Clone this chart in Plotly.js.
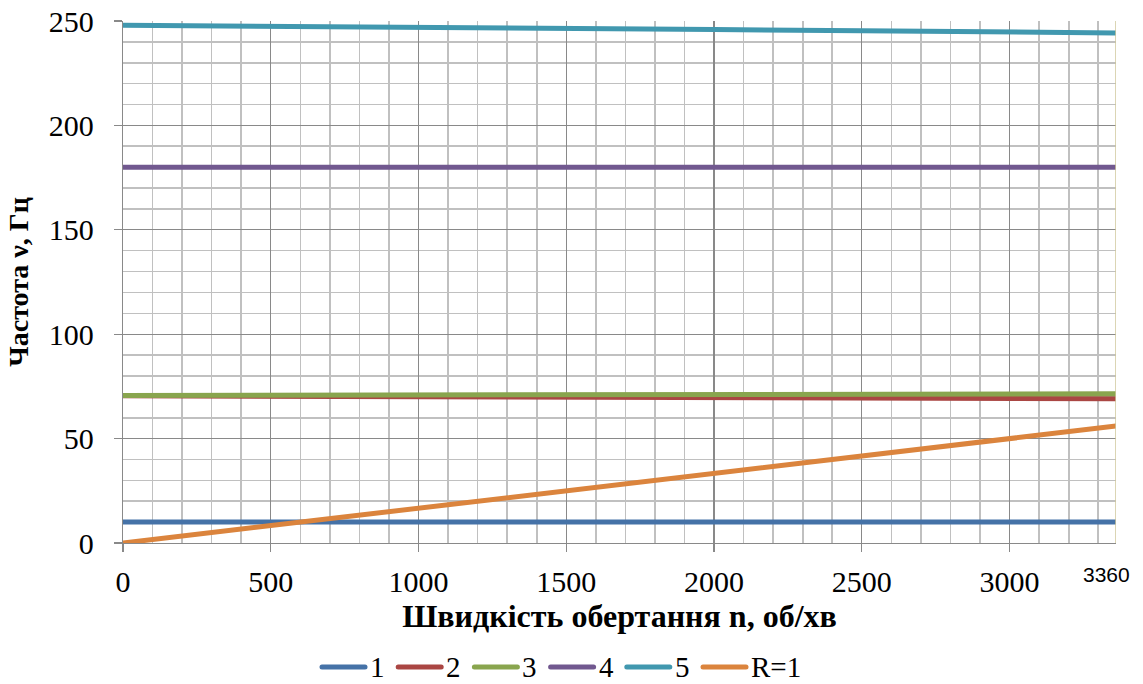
<!DOCTYPE html>
<html>
<head>
<meta charset="utf-8">
<script src="https://cdn.plot.ly/plotly-3.0.1.min.js"></script>
<style>
  html, body { margin: 0; padding: 0; background: #ffffff; }
  #chart { width: 1143px; height: 684px; }
  #chart .js-line { stroke-linecap: round; }
</style>
</head>
<body>
<div id="chart"></div>
<script>
// Rotation speed, rpm
const speed = [0, 500, 1000, 1500, 2000, 2500, 3000, 3360];

// Natural frequencies of modes 1–5, Hz
const mode1 = [10, 10, 10, 10, 10, 10, 10, 10];
const mode2 = [70.5, 70.3, 70.1, 69.9, 69.7, 69.5, 69.3, 69.1];
const mode3 = [70.6, 70.8, 70.9, 71.0, 71.2, 71.3, 71.4, 71.5];
const mode4 = [180, 180, 180, 180, 180, 180, 180, 180];
const mode5 = [248.0, 247.6, 247.1, 246.5, 245.9, 245.3, 244.7, 244.3];
// Excitation line R=1
const rLine = [0, 8.3, 16.7, 25, 33.3, 41.7, 50, 56];

const seriesNames = ['1', '2', '3', '4', '5', 'R=1'];
const seriesValues = [mode1, mode2, mode3, mode4, mode5, rLine];
const seriesColors = ['#4572A7', '#AA4643', '#89A54E', '#71588F', '#4198AF', '#DB843D'];

const xMax = 3360;
const xEndLabel = '3360';

const W = 1143, H = 684;
const M = { l: 123, r: 27, t: 21, b: 141 };
const plotW = W - M.l - M.r;
const plotH = H - M.t - M.b;
// pixel -> paper fraction helpers for the hand-drawn legend
const px = v => (v - M.l) / plotW;
const py = v => (H - M.b - v) / plotH;

const traces = seriesNames.map((name, i) => ({
  x: speed,
  y: seriesValues[i],
  name: name,
  type: 'scatter',
  mode: 'lines',
  line: { color: seriesColors[i], width: 5 },
  hoverinfo: 'x+y+name',
  showlegend: false
}));

const serif = 'Liberation Serif';

// Legend: short coloured bar followed by the series name, in one row
const legendStart = 322, legendStep = 76.2, keyLen = 43, legendY = 667;
const legendShapes = seriesNames.map((n, i) => ({
  type: 'line', xref: 'paper', yref: 'paper',
  x0: px(legendStart + i * legendStep), x1: px(legendStart + i * legendStep + keyLen),
  y0: py(legendY), y1: py(legendY),
  line: { color: seriesColors[i], width: 5 }
}));
const legendLabels = seriesNames.map((n, i) => ({
  text: n, xref: 'paper', yref: 'paper',
  x: px(legendStart + i * legendStep + keyLen + 3), y: py(legendY),
  xanchor: 'left', yanchor: 'middle', showarrow: false,
  font: { family: serif, size: 29, color: '#000000' }
}));

const layout = {
  width: W,
  height: H,
  paper_bgcolor: '#ffffff',
  plot_bgcolor: '#ffffff',
  margin: { l: M.l, r: M.r, t: M.t, b: M.b, autoexpand: false },
  font: { family: serif, color: '#000000', size: 29 },
  showlegend: false,
  xaxis: {
    range: [0, xMax],
    tick0: 0, dtick: 500,
    showgrid: true, gridcolor: '#898989', gridwidth: 1.3,
    minor: { dtick: 100, showgrid: true, gridcolor: '#c0c0c0', gridwidth: 1.6, ticks: '' },
    ticks: 'outside', ticklen: 8, tickcolor: '#898989', tickwidth: 1.3,
    showline: true, linecolor: '#898989', linewidth: 1.3,
    zeroline: false,
    ticklabelstandoff: 4,
    tickfont: { family: serif, size: 30, color: '#000000' },
    title: { text: '<b>Швидкість обертання n, об/хв</b>', font: { family: serif, size: 32, color: '#000000' }, standoff: 6 }
  },
  yaxis: {
    range: [0, 250],
    tick0: 0, dtick: 50,
    showgrid: true, gridcolor: '#898989', gridwidth: 1.3,
    minor: { dtick: 10, showgrid: true, gridcolor: '#c0c0c0', gridwidth: 1.6, ticks: '' },
    ticks: 'outside', ticklen: 8, tickcolor: '#898989', tickwidth: 1.3,
    showline: true, linecolor: '#898989', linewidth: 1.3,
    zeroline: false,
    ticklabelstandoff: 14,
    tickfont: { family: serif, size: 30, color: '#000000' },
    title: { text: '<b>Частота ν, Гц</b>', font: { family: serif, size: 28, color: '#000000' }, standoff: 12 }
  },
  shapes: [
    {
      type: 'line', xref: 'x', yref: 'paper',
      x0: xMax, x1: xMax, y0: 0, y1: 1,
      line: { color: '#cfc79b', width: 1.5 },
      layer: 'above'
    }
  ].concat(legendShapes),
  annotations: [
    {
      text: xEndLabel, xref: 'x', yref: 'paper',
      x: xMax, y: 0, xanchor: 'center', yanchor: 'top',
      xshift: -10, yshift: -18,
      showarrow: false,
      font: { family: 'Liberation Sans', size: 21, color: '#000000' }
    }
  ].concat(legendLabels)
};

Plotly.newPlot('chart', traces, layout, { displayModeBar: false, staticPlot: true }).then(gd => {
  // round caps on the legend keys, like the series lines
  gd.querySelectorAll('.shapelayer path').forEach((p, i) => {
    if (i > 0) p.style.strokeLinecap = 'round';
  });
});
</script>
</body>
</html>
